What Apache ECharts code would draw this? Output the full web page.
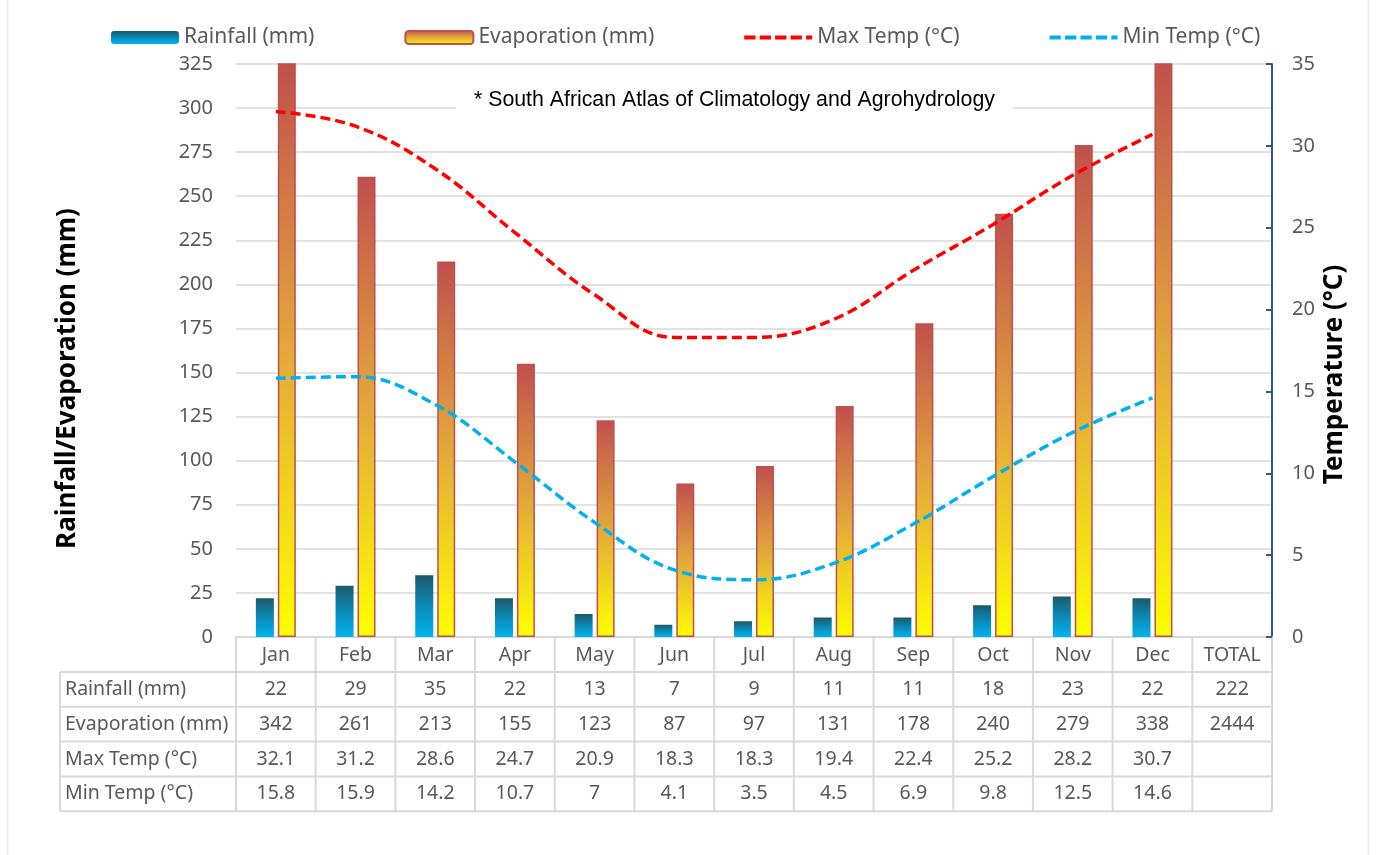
<!DOCTYPE html>
<html><head><meta charset="utf-8">
<script src="https://cdn.jsdelivr.net/npm/echarts@6/dist/echarts.min.js"></script>
<style>html,body{margin:0;padding:0;background:#fff}#c{width:1376px;height:855px}</style>
</head><body><div id="c"></div>
<script>
const categories = ['Jan','Feb','Mar','Apr','May','Jun','Jul','Aug','Sep','Oct','Nov','Dec','TOTAL'];
const rainfall = [22,29,35,22,13,7,9,11,11,18,23,22];
const evaporation = [342,261,213,155,123,87,97,131,178,240,279,338];
const maxTemp = [32.1,31.2,28.6,24.7,20.9,18.3,18.3,19.4,22.4,25.2,28.2,30.7];
const minTemp = [15.8,15.9,14.2,10.7,7,4.1,3.5,4.5,6.9,9.8,12.5,14.6];
const rainfallTotal = 222;
const evaporationTotal = 2444;
const rowLabels = ['Rainfall (mm)','Evaporation (mm)','Max Temp (°C)','Min Temp (°C)'];
const leftAxis = {min:0, max:325, interval:25};
const rightAxis = {min:0, max:35, interval:5};
const sourceNote = '* South African Atlas of Climatology and Agrohydrology';
const leftName = 'Rainfall/Evaporation (mm)';
const rightName = 'Temperature (°C)';

const FONT = 'Noto Sans';
const GRAY = '#595959';
const LINE = '#d9d9d9';
const DASH_ICON = 'path://M0,0h11v4h-11z M15,0h11v4h-11z M30,0h11v4h-11z M45,0h11v4h-11z M60,0h6v4h-6z';

const chart = echarts.init(document.getElementById('c'));
chart.setOption({
  animation:false,
  backgroundColor:'#fff',
  textStyle:{fontFamily:FONT},
  title:{text:sourceNote,left:456,top:86,padding:[4,18,4,18],backgroundColor:'#fff',
    textStyle:{fontFamily:'Liberation Sans',fontSize:21.3,fontWeight:'normal',color:'#000'}},
  legend:{left:106,top:22,itemWidth:68,itemHeight:13,itemGap:90,
    textStyle:{fontFamily:FONT,fontSize:21,color:GRAY},
    data:[
      {name:'Rainfall (mm)'},
      {name:'Evaporation (mm)'},
      {name:'Max Temp (°C)',icon:DASH_ICON},
      {name:'Min Temp (°C)',icon:DASH_ICON}
    ]},
  grid:{left:236,right:104,top:64,bottom:218,containLabel:false},
  xAxis:{type:'category',data:categories,boundaryGap:true,
    axisLine:{show:true,lineStyle:{color:LINE,width:2}},
    axisTick:{show:false},
    axisLabel:{fontFamily:FONT,fontSize:19.5,color:GRAY,margin:8},
    splitLine:{show:false}},
  yAxis:[
    {type:'value',min:leftAxis.min,max:leftAxis.max,interval:leftAxis.interval,
     axisLine:{show:false},axisTick:{show:false},
     axisLabel:{fontFamily:FONT,fontSize:20,color:GRAY,margin:23},
     splitLine:{lineStyle:{color:LINE,width:1.5}}},
    {type:'value',min:rightAxis.min,max:rightAxis.max,interval:rightAxis.interval,position:'right',
     axisLine:{show:true,lineStyle:{color:'#2f5597',width:2}},
     axisTick:{show:true,inside:true,length:6,lineStyle:{color:'#2f5597',width:2}},
     axisLabel:{fontFamily:FONT,fontSize:20,color:GRAY,margin:20},
     splitLine:{show:false}}
  ],
  series:[
    {name:'Rainfall (mm)',type:'bar',data:rainfall,barWidth:18,barGap:'22%',
     itemStyle:{color:new echarts.graphic.LinearGradient(0,0,0,1,[{offset:0,color:'#1b5a6c'},{offset:0.5,color:'#0a8ab8'},{offset:1,color:'#00b4f0'}])}},
    {name:'Evaporation (mm)',type:'bar',data:evaporation,barWidth:18,
     itemStyle:{borderColor:'#c0504d',borderWidth:1.5,
       color:new echarts.graphic.LinearGradient(0,0,0,1,[{offset:0,color:'#c0504d'},{offset:0.5,color:'#e3a83c'},{offset:1,color:'#ffff00'}])}},
    {name:'Max Temp (°C)',type:'line',yAxisIndex:1,data:maxTemp,smooth:0.4,symbol:'none',
     lineStyle:{color:'#ff0000',width:3.5,type:[10,5]},itemStyle:{color:'#ff0000'}},
    {name:'Min Temp (°C)',type:'line',yAxisIndex:1,data:minTemp,smooth:0.4,symbol:'none',
     lineStyle:{color:'#00b0f0',width:3.5,type:[10,5]},itemStyle:{color:'#00b0f0'}}
  ]
});

// data table beneath the chart
const c0 = chart.convertToPixel({xAxisIndex:0}, categories[0]);
const c1 = chart.convertToPixel({xAxisIndex:0}, categories[1]);
const colW = c1 - c0;
const x0 = c0 - colW/2;
const xEnd = x0 + colW*categories.length;
const yAxisY = chart.convertToPixel({yAxisIndex:0}, 0);
const yTop = chart.convertToPixel({yAxisIndex:0}, leftAxis.max);
const headerH = 35, rowH = 34.8;
const labelX = 60;
const g = [];
const lineStyle = {stroke:LINE,lineWidth:2};
const rowsTop = yAxisY + headerH;
const rowsBottom = rowsTop + rowH*rowLabels.length;
for (let i=0;i<=categories.length;i++){
  const x = x0 + colW*i;
  g.push({type:'line',shape:{x1:x,y1:yAxisY,x2:x,y2:rowsBottom},style:lineStyle,silent:true});
}
g.push({type:'line',shape:{x1:labelX,y1:rowsTop,x2:labelX,y2:rowsBottom},style:lineStyle,silent:true});
for (let r=0;r<=rowLabels.length;r++){
  const y = rowsTop + rowH*r;
  g.push({type:'line',shape:{x1:labelX,y1:y,x2:xEnd,y2:y},style:lineStyle,silent:true});
}
const rows = [
  rainfall.concat([rainfallTotal]),
  evaporation.concat([evaporationTotal]),
  maxTemp.concat(['']),
  minTemp.concat([''])
];
const cellFont = '19.5px "Noto Sans"';
rows.forEach((vals,r)=>{
  const yc = rowsTop + rowH*r + rowH/2;
  g.push({type:'text',x:labelX+5,y:yc,style:{text:rowLabels[r],fill:GRAY,font:cellFont,verticalAlign:'middle',align:'left'},silent:true});
  vals.forEach((v,i)=>{
    g.push({type:'text',x:x0+colW*i+colW/2,y:yc,style:{text:String(v),fill:GRAY,font:cellFont,verticalAlign:'middle',align:'center'},silent:true});
  });
});
// axis names
const nameFont = 'bold 26px "Noto Sans"';
const midY = (yAxisY + yTop)/2;
g.push({type:'text',x:x0-168,y:midY+28,rotation:Math.PI/2,style:{text:leftName,fill:'#000',font:nameFont,align:'center',verticalAlign:'middle'},silent:true});
g.push({type:'text',x:xEnd+63,y:midY+24,rotation:Math.PI/2,style:{text:rightName,fill:'#000',font:nameFont,align:'center',verticalAlign:'middle'},silent:true});
// outer chart border
g.push({type:'rect',shape:{x:7.5,y:-5,width:1361,height:870},style:{fill:'none',stroke:'#ebe9e1',lineWidth:1.5},silent:true,z:-1});
chart.setOption({graphic:g});
</script></body></html>
